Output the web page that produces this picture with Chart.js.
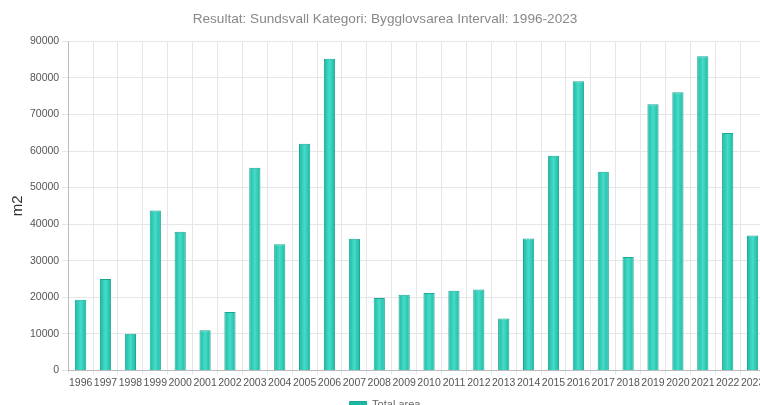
<!DOCTYPE html>
<html>
<head>
<meta charset="utf-8">
<script src="https://cdn.jsdelivr.net/npm/chart.js@4.4.1/dist/chart.umd.min.js"></script>
<style>
    html, body { margin: 0; padding: 0; background: #fff; overflow: hidden; }
    .wrap { position: absolute; left: 0; top: 0; width: 780px; height: 420px; }
</style>
</head>
<body>
<div class="wrap"><canvas id="diag1" width="780" height="420"></canvas></div>
<script>
const years = ["1996", "1997", "1998", "1999", "2000", "2001", "2002", "2003", "2004", "2005",
    "2006", "2007", "2008", "2009", "2010", "2011", "2012", "2013", "2014", "2015",
    "2016", "2017", "2018", "2019", "2020", "2021", "2022", "2023"];
const totalArea = [19300, 25000, 10000, 43700, 37900, 11000, 16000, 55400, 34500, 62000,
    85200, 36000, 19800, 20700, 21200, 21800, 22100, 14200, 36100, 58700,
    79100, 54300, 31000, 72800, 76100, 85900, 64900, 36900];
const yTicks = [0, 10000, 20000, 30000, 40000, 50000, 60000, 70000, 80000, 90000];

document.addEventListener("DOMContentLoaded", () => {
    const chart1 = document.getElementById("diag1");
    const barPct = 0.5, catPct = 0.9;

    // gradient across each bar: dark edges, light middle
    function barFill(context) {
        const chart = context.chart;
        const x = chart.scales.x;
        if (!x || context.dataIndex === undefined) return "#2cc9b3";
        const cx = x.getPixelForValue(context.dataIndex);
        const w = (x.width / years.length) * barPct * catPct;
        if (!isFinite(cx) || !isFinite(w) || w <= 0) return "#2cc9b3";
        const g = chart.ctx.createLinearGradient(cx - w / 2, 0, cx + w / 2, 0);
        g.addColorStop(0, "#1cb8a2");
        g.addColorStop(0.5, "#45dcc9");
        g.addColorStop(1, "#1cb8a2");
        return g;
    }

    new Chart(chart1, {
        type: "bar",
        data: {
            labels: years,
            datasets: [{
                label: "Total area",
                data: totalArea,
                backgroundColor: barFill,
                borderColor: "#19a893",
                borderWidth: 1,
                barPercentage: barPct,
                categoryPercentage: catPct
            }]
        },
        options: {
            responsive: false,
            animation: false,
            layout: { padding: { left: 5, right: 15, top: 5, bottom: 0 } },
            plugins: {
                title: {
                    display: true,
                    text: "Resultat: Sundsvall Kategori: Bygglovsarea Intervall: 1996-2023",
                    color: "#888",
                    font: { family: "Liberation Sans, Arial", size: 13.6, weight: "normal" },
                    padding: { top: 6, bottom: 14 }
                },
                legend: {
                    position: "bottom",
                    labels: {
                        color: "#666",
                        boxWidth: 17,
                        boxHeight: 6,
                        padding: 8,
                        font: { family: "Liberation Sans, Arial", size: 11 }
                    }
                },
                tooltip: { enabled: false }
            },
            scales: {
                x: {
                    grid: { color: "#e6e6e6", tickLength: 4 },
                    border: { color: "#bbb" },
                    ticks: {
                        color: "#555",
                        maxRotation: 0,
                        autoSkip: false,
                        padding: 2,
                        font: { family: "Liberation Sans, Arial", size: 10.5 }
                    }
                },
                y: {
                    min: 0,
                    max: 90000,
                    afterBuildTicks: (axis) => { axis.ticks = yTicks.map(v => ({ value: v })); },
                    grid: { color: "#e6e6e6", tickLength: 6 },
                    border: { color: "#bbb" },
                    title: {
                        display: true,
                        text: "m2",
                        color: "#333",
                        padding: { top: 4, bottom: 0 },
                        font: { family: "Liberation Sans, Arial", size: 15 }
                    },
                    ticks: {
                        color: "#555",
                        callback: (v) => String(v),
                        font: { family: "Liberation Sans, Arial", size: 10.5 }
                    }
                }
            }
        }
    });
});
</script>
</body>
</html>
